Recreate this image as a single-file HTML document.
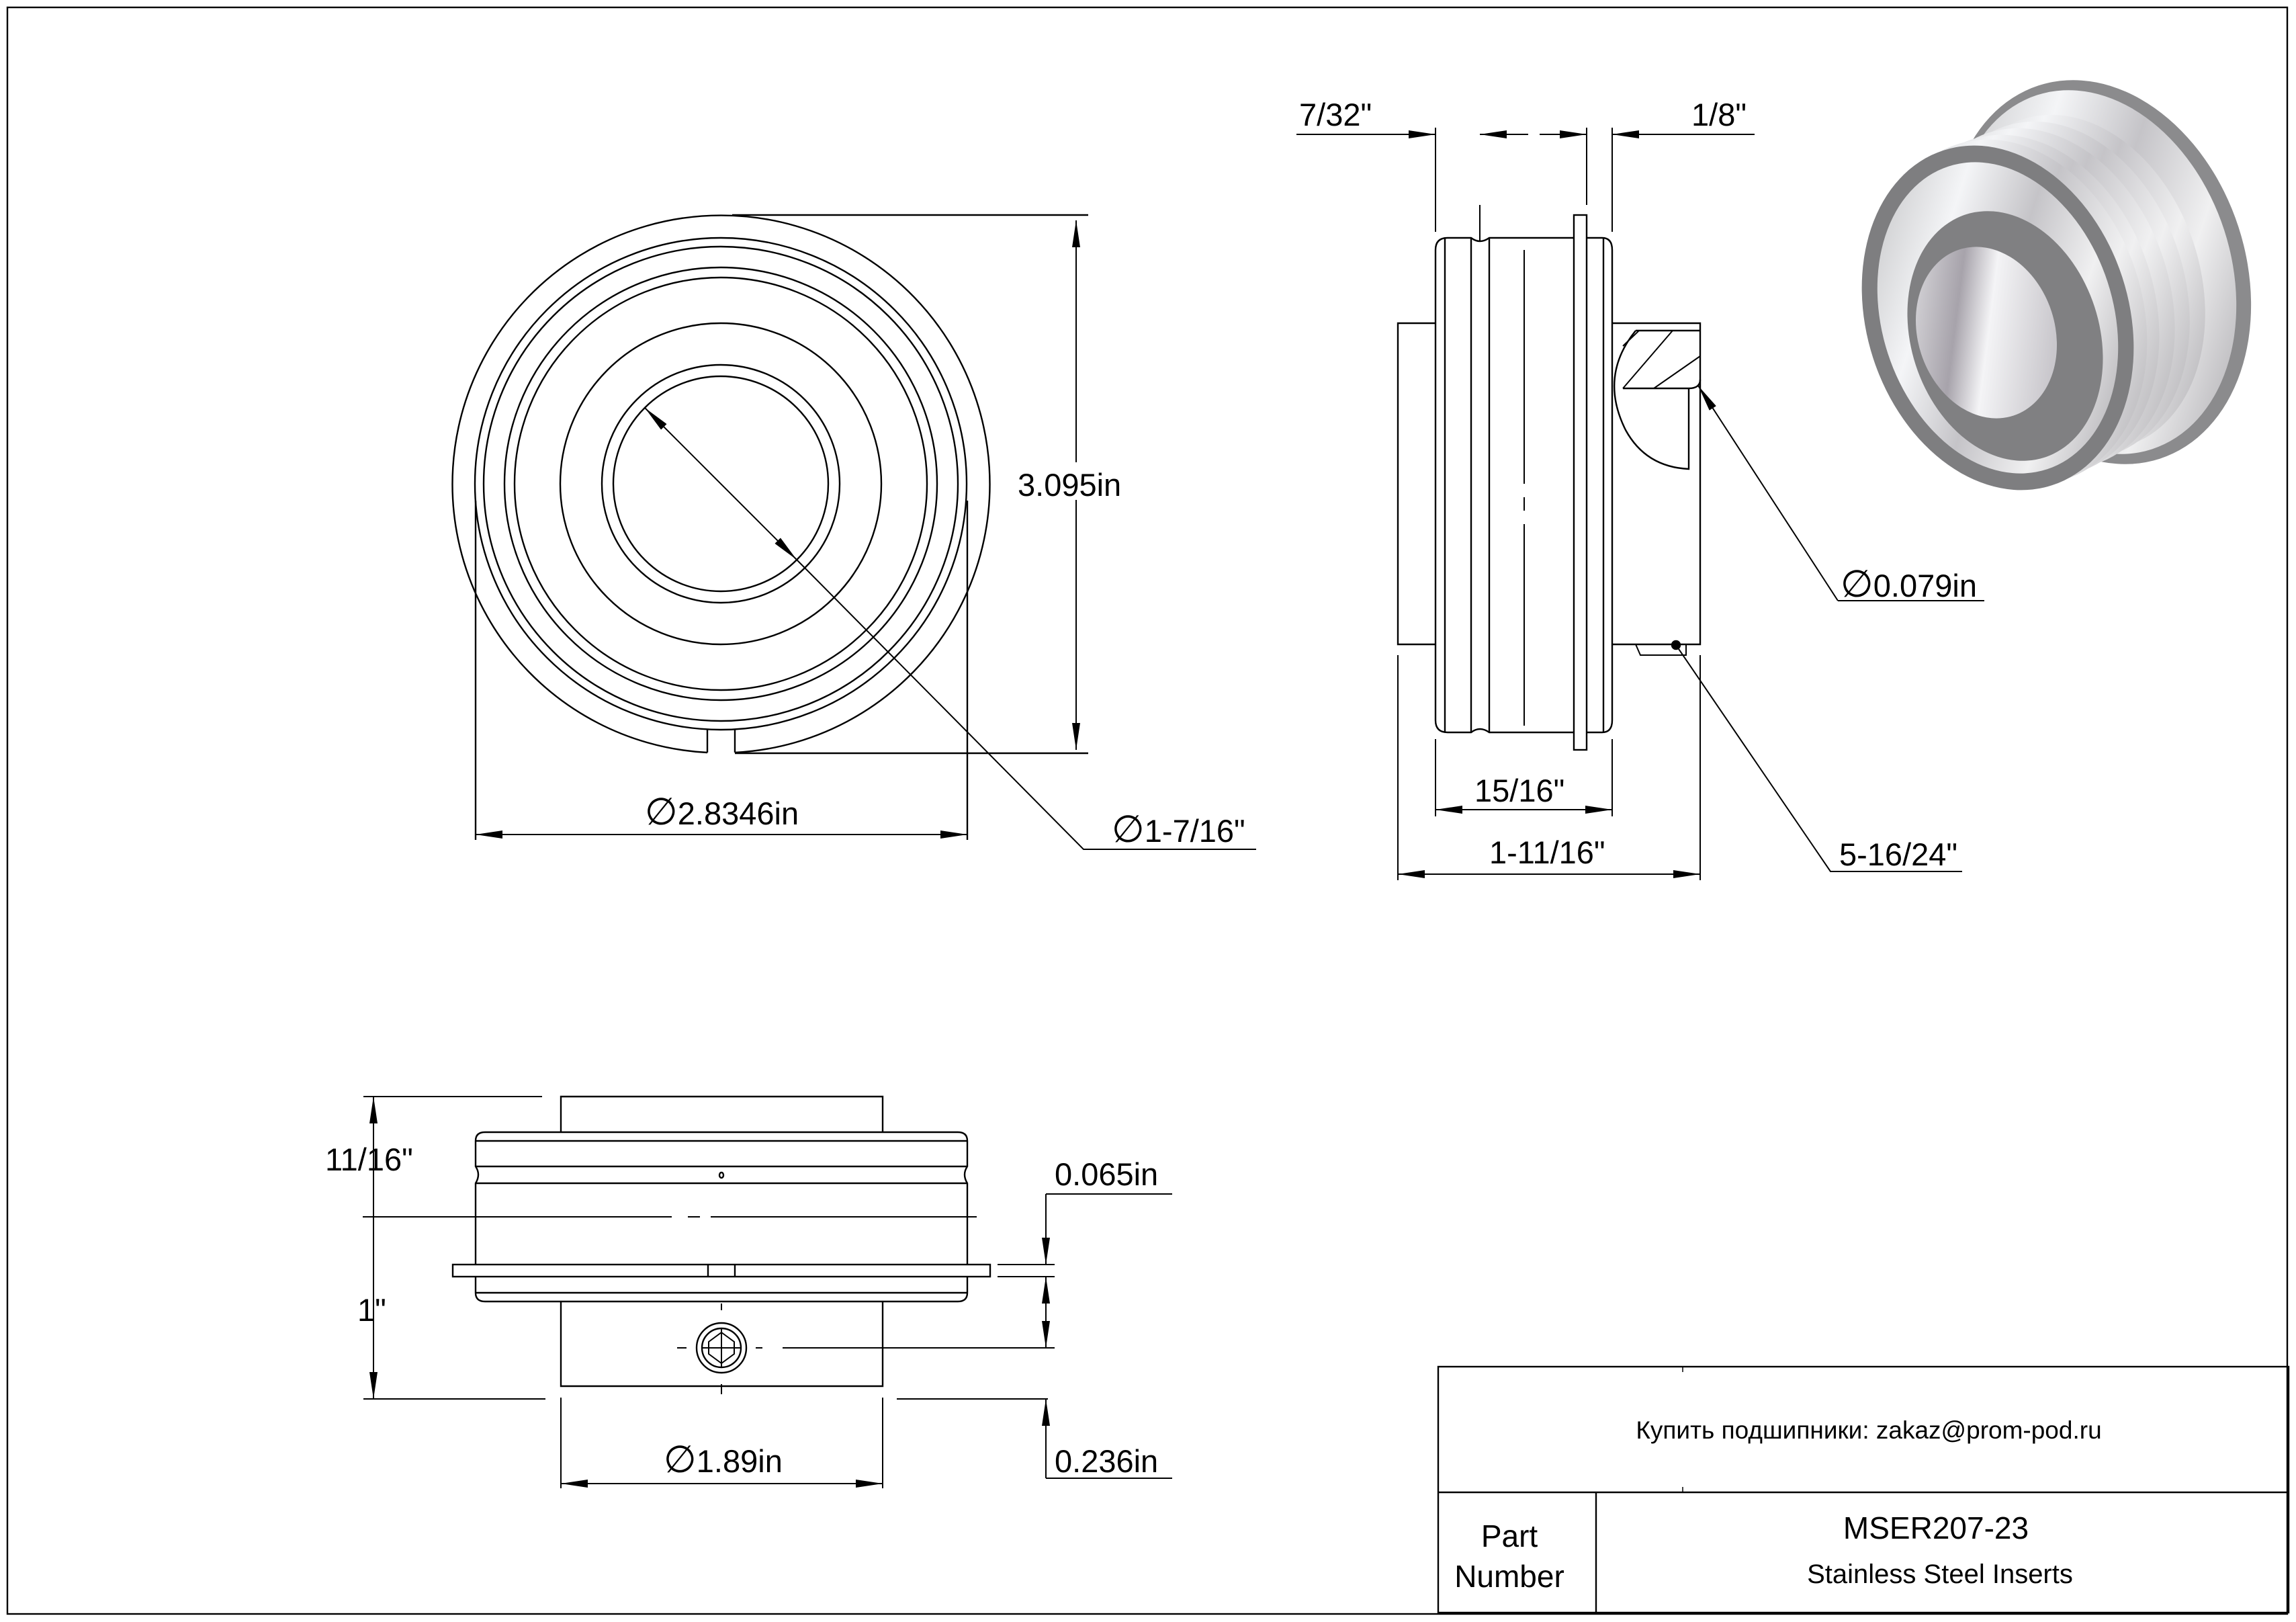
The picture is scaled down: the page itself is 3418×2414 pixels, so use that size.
<!DOCTYPE html>
<html><head><meta charset="utf-8"><style>
html,body{margin:0;padding:0;background:#fff}
svg{display:block}
text{font-family:"Liberation Sans","DejaVu Sans",sans-serif;fill:#000}
</style></head><body>
<svg width="3418" height="2414" viewBox="0 0 3418 2414" xmlns="http://www.w3.org/2000/svg">
<defs>
<marker id="A" viewBox="0 0 40 12" refX="40" refY="6" markerWidth="40" markerHeight="12" markerUnits="userSpaceOnUse" orient="auto-start-reverse"><path d="M0,0L40,6L0,12z" fill="#000"/></marker>
<linearGradient id="met" x1="0" y1="0" x2="1" y2="1"><stop offset="0" stop-color="#b8b8ba"/><stop offset=".3" stop-color="#f4f5f7"/><stop offset=".5" stop-color="#c5c4c8"/><stop offset=".7" stop-color="#f0f0f1"/><stop offset="1" stop-color="#9a989d"/></linearGradient>
<linearGradient id="bore" x1="0" y1="0" x2="1" y2="0.6"><stop offset="0" stop-color="#e8e8ea"/><stop offset=".4" stop-color="#a7a3ab"/><stop offset=".6" stop-color="#f4f4f6"/><stop offset="1" stop-color="#c9c7cc"/></linearGradient>
</defs>
<g fill="none" stroke="#000" stroke-width="2.4">
<rect x="11" y="11" width="3394" height="2391"/>

<!-- FRONT VIEW -->
<circle cx="1073" cy="720" r="366"/>
<circle cx="1073" cy="720" r="353"/>
<circle cx="1073" cy="720" r="322"/>
<circle cx="1073" cy="720" r="307"/>
<circle cx="1073" cy="720" r="239"/>
<circle cx="1073" cy="720" r="177"/>
<circle cx="1073" cy="720" r="160"/>
<path d="M1053,1120 A400,400 0 1 1 1094,1120"/>
<path d="M1053,1120 V1086 M1094,1120 V1086"/>
<path d="M708,745 V1250 M1440,745 V1250"/>
<path d="M1094,1121 H1620 M1090,320 H1620"/>
<path d="M1602,328 V1116" stroke-width="2" marker-start="url(#A)" marker-end="url(#A)"/>
<path d="M708,1242 H1440" stroke-width="2" marker-start="url(#A)" marker-end="url(#A)"/>
<path d="M960,607 L1186,833" stroke-width="2" marker-start="url(#A)" marker-end="url(#A)"/>
<path d="M1186,833 L1613,1264 H1870" stroke-width="2"/>

<!-- SIDE VIEW -->
<path d="M2137,372 Q2137,354 2155,354 H2190 Q2203,364 2217,354 H2343"/>
<path d="M2362,354 H2385 Q2400,354 2400,372 V1072 Q2400,1090 2385,1090 H2362"/>
<path d="M2343,1090 H2217 Q2203,1080 2190,1090 H2155 Q2137,1090 2137,1072 V372"/>
<path d="M2151,354 V1090 M2190,354 V1090 M2217,354 V1090 M2387,354 V1090"/>
<path d="M2269,372 V720 M2269,740 V760 M2269,780 V1080" stroke-width="2"/>
<path d="M2203,305 V360" stroke-width="2"/>
<rect x="2343" y="320" width="19" height="796"/>
<path d="M2137,481 H2081 V959 H2137 M2400,481 H2531 V959 H2400"/>
<path d="M2435,492 H2531 M2416,578 H2514 Q2531,578 2531,565"/>
<path d="M2435,492 Q2380,560 2420,640 Q2450,695 2514,698 V578"/>
<path d="M2416,578 L2490,492 M2462,578 L2531,530 M2440,492 L2416,515" stroke-width="2"/>
<path d="M2435,959 L2442,975 H2510 V959" stroke-width="2"/>
<circle cx="2495" cy="960" r="6" fill="#000"/>
<path d="M2736,894 H2954" stroke-width="2"/>
<path d="M2736,894 L2528,574" stroke-width="2" marker-end="url(#A)"/>
<path d="M2495,960 L2725,1297 H2921" stroke-width="2"/>
<!-- top dims -->
<path d="M2137,190 V345 M2362,190 V305 M2400,190 V345" stroke-width="2"/>
<path d="M1930,200 H2137" stroke-width="2" marker-end="url(#A)"/>
<path d="M2275,200 H2203" stroke-width="2" marker-end="url(#A)"/>
<path d="M2292,200 H2362" stroke-width="2" marker-end="url(#A)"/>
<path d="M2612,200 H2400" stroke-width="2" marker-end="url(#A)"/>
<!-- bottom dims -->
<path d="M2137,1100 V1215 M2400,1100 V1215 M2081,975 V1310 M2531,975 V1310" stroke-width="2"/>
<path d="M2137,1205 H2400" stroke-width="2" marker-start="url(#A)" marker-end="url(#A)"/>
<path d="M2081,1301 H2531" stroke-width="2" marker-start="url(#A)" marker-end="url(#A)"/>

<!-- BOTTOM VIEW -->
<path d="M835,1685 V1632 H1314 V1685"/>
<path d="M722,1685 H1426 Q1440,1685 1440,1698 V1736 Q1432,1748 1440,1761 V1924 Q1440,1937 1426,1937 H722 Q708,1937 708,1924 V1761 Q716,1748 708,1736 V1698 Q708,1685 722,1685 Z"/>
<path d="M708,1698 H1440 M708,1736 H1440 M708,1761 H1440 M708,1924 H1440"/>
<rect x="674" y="1882" width="800" height="18" fill="#fff"/>
<path d="M1054,1882 V1900 M1094,1882 V1900"/>
<ellipse cx="1074" cy="1749" rx="3" ry="4"/>
<path d="M835,1937 V2063 H1314 V1937"/>
<circle cx="1074" cy="2006" r="37"/>
<circle cx="1074" cy="2006" r="29"/>
<path d="M1074,1983 L1093,1997 V2015 L1074,2029 L1055,2015 V1997 Z" stroke-width="2"/>
<path d="M1045,2006 H1103 M1074,1977 V2035 M1008,2006 H1022 M1125,2006 H1135 M1165,2006 H1570 M1074,1940 V1950 M1074,2060 V2075" stroke-width="2"/>
<path d="M540,1811 H1000 M1024,1811 H1042 M1058,1811 H1454" stroke-width="2"/>
<path d="M541,1632 H807 M541,2082 H812 M1335,2082 H1560 M1485,1882 H1570 M1485,1900 H1570" stroke-width="2"/>
<path d="M556,1811 V1632" stroke-width="2" marker-end="url(#A)"/>
<path d="M556,1811 V2082" stroke-width="2" marker-end="url(#A)"/>
<path d="M1557,1777 V1882" stroke-width="2" marker-end="url(#A)"/>
<path d="M1557,1777 H1745" stroke-width="2"/>
<path d="M1557,1960 V1900" stroke-width="2" marker-end="url(#A)"/>
<path d="M1557,1960 V2006" stroke-width="2" marker-end="url(#A)"/>
<path d="M1557,2200 V2082" stroke-width="2" marker-end="url(#A)"/>
<path d="M1557,2200 H1745" stroke-width="2"/>
<path d="M835,2080 V2215 M1314,2080 V2215" stroke-width="2"/>
<path d="M835,2208 H1314" stroke-width="2" marker-start="url(#A)" marker-end="url(#A)"/>

<!-- TITLE BLOCK -->
<rect x="2141" y="2034" width="1266" height="366"/>
<path d="M2141,2221 H3407 M2376,2221 V2400"/>
<path d="M2505,2034 V2042 M2505,2213 V2221" stroke-width="1.5"/>
</g>

<!-- 3D render -->
<g>
<ellipse cx="3125" cy="405" rx="218" ry="292" transform="rotate(-18 3125 405)" fill="#8b8b8d"/>
<ellipse cx="3118" cy="405" rx="203" ry="277" transform="rotate(-18 3118 405)" fill="url(#met)"/>
<ellipse cx="3090" cy="420" rx="185" ry="255" transform="rotate(-18 3090 420)" fill="url(#met)"/>
<ellipse cx="3065" cy="432" rx="187" ry="257" transform="rotate(-18 3065 432)" fill="url(#met)"/>
<ellipse cx="3040" cy="444" rx="190" ry="259" transform="rotate(-18 3040 444)" fill="url(#met)"/>
<ellipse cx="3015" cy="455" rx="192" ry="260" transform="rotate(-18 3015 455)" fill="url(#met)"/>
<ellipse cx="2994" cy="464" rx="195" ry="262" transform="rotate(-18 2994 464)" fill="url(#met)"/>
<ellipse cx="2974" cy="473" rx="195" ry="262" transform="rotate(-18 2974 473)" fill="#7e7e80"/>
<ellipse cx="2974" cy="473" rx="172" ry="237" transform="rotate(-18 2974 473)" fill="url(#met)"/>
<ellipse cx="2985" cy="500" rx="140" ry="190" transform="rotate(-18 2985 500)" fill="#808082"/>
<ellipse cx="2957" cy="495" rx="102" ry="130" transform="rotate(-18 2957 495)" fill="url(#bore)"/>
</g>

<!-- TEXT -->
<rect x="1508" y="688" width="172" height="56" fill="#fff"/>
<g font-size="47">
<text x="1515" y="738">3.095in</text>
<text x="960" y="1227"><tspan font-size="56">∅</tspan>2.8346in</text>
<text x="1655" y="1253"><tspan font-size="56">∅</tspan>1-7/16"</text>
<text x="1934" y="187">7/32"</text>
<text x="2518" y="187">1/8"</text>
<text x="2740" y="888"><tspan font-size="56">∅</tspan>0.079in</text>
<text x="2195" y="1193">15/16"</text>
<text x="2217" y="1285">1-11/16"</text>
<text x="2738" y="1288">5-16/24"</text>
<text x="484" y="1742">11/16"</text>
<text x="532" y="1966">1"</text>
<text x="1570" y="1764">0.065in</text>
<text x="1570" y="2191">0.236in</text>
<text x="988" y="2191"><tspan font-size="56">∅</tspan>1.89in</text>
</g>
<text x="2782" y="2141" font-size="37" text-anchor="middle">Купить подшипники: zakaz@prom-pod.ru</text>
<text x="2247" y="2302" font-size="46" text-anchor="middle">Part</text>
<text x="2247" y="2362" font-size="46" text-anchor="middle">Number</text>
<text x="2882" y="2290" font-size="46" text-anchor="middle">MSER207-23</text>
<text x="2888" y="2356" font-size="40" text-anchor="middle">Stainless Steel Inserts</text>
</svg>
</body></html>
